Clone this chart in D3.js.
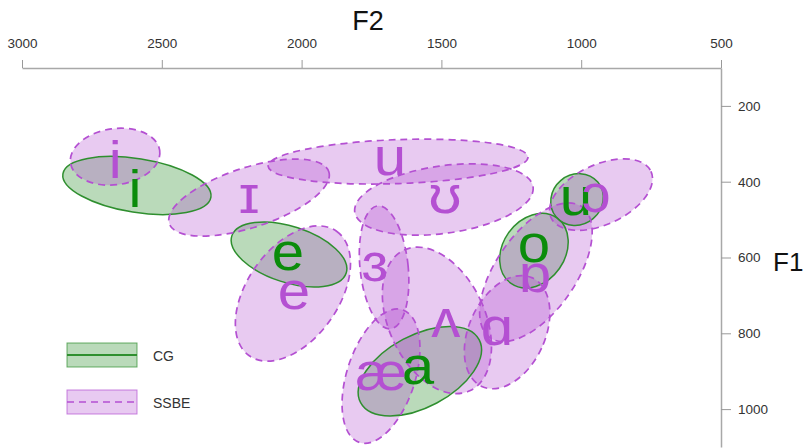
<!DOCTYPE html>
<html>
<head>
<meta charset="utf-8">
<script src="https://cdn.jsdelivr.net/npm/d3@7"></script>
<style>
  body { margin: 0; background: #fff; }
  svg { font-family: "Liberation Sans", Arial, "DejaVu Sans", sans-serif; }
</style>
</head>
<body>
<svg id="chart" width="807" height="448"></svg>
<script>
// axis ticks
var f2Ticks = [3000, 2500, 2000, 1500, 1000, 500]
var f1Ticks = [200, 400, 600, 800, 1000]

// CG vowels: ellipse centre (F2, F1), semi axes (Hz), tilt (deg), label anchor
var cgVowels = ['i', 'e', 'a', 'o', 'u']
var cgF2 = [2589, 2045, 1577, 1169, 1015]
var cgF1 = [410, 592, 900, 582, 447]
var cgRx = [268, 215, 240, 143, 97]
var cgRy = [71, 74, 95, 82, 66]
var cgTilt = [9, 18, -28, -55, -40]
var cgLabelF2 = [2596, 2049, 1584, 1169, 1019]
var cgLabelF1 = [466, 634, 934, 611, 487]

// SSBE vowels
var ssVowels = ['i', 'ɪ', 'u', 'ʊ', 'e', 'ɜ', 'ʌ', 'æ', 'ɑ', 'ɒ', 'ɔ']
var ssF2 = [2667, 2188, 1655, 1491, 2031, 1705, 1516, 1716, 1265, 1162, 929]
var ssF1 = [334, 442, 347, 447, 695, 626, 766, 913, 797, 639, 434]
var ssRx = [161, 300, 465, 322, 272, 86, 172, 122, 136, 286, 197]
var ssRy = [74, 79, 58, 89, 121, 163, 205, 184, 158, 105, 79]
var ssTilt = [-8, -18, -2, -8, -55, -6, -25, 18, 25, -55, -25]
var ssLabelF2 = [2667, 2188, 1684, 1487, 2027, 1738, 1484, 1716, 1301, 1165, 947]
var ssLabelF1 = [389, 482, 382, 482, 737, 663, 811, 950, 832, 692, 479]

var groups = ['CG', 'SSBE']

var green = '#2f8f2f'
var greenText = '#0b8c0b'
var violet = '#b450d2'

var svg = d3.select('#chart')

var x = d3.scaleLinear().domain([3000, 500]).range([22, 721])
var y = d3.scaleLinear().domain([100, 1100]).range([68, 447])
var kx = Math.abs(x(1) - x(0))
var ky = Math.abs(y(1) - y(0))

function rows (names, f2, f1, rx, ry, tilt, lf2, lf1) {
  return names.map(function (n, i) {
    return {name: n, f2: f2[i], f1: f1[i], rx: rx[i], ry: ry[i], tilt: tilt[i], lf2: lf2[i], lf1: lf1[i]}
  })
}

var cg = rows(cgVowels, cgF2, cgF1, cgRx, cgRy, cgTilt, cgLabelF2, cgLabelF1)
var ss = rows(ssVowels, ssF2, ssF1, ssRx, ssRy, ssTilt, ssLabelF2, ssLabelF1)

function ellipses (g, data) {
  return g.selectAll('ellipse')
    .data(data)
    .enter()
    .append('ellipse')
    .attr('cx', d => x(d.f2))
    .attr('cy', d => y(d.f1))
    .attr('rx', d => d.rx * kx)
    .attr('ry', d => d.ry * ky)
    .attr('transform', d => `rotate(${d.tilt},${x(d.f2)},${y(d.f1)})`)
}

// fills first, then outlines
ellipses(svg.append('g'), cg)
  .attr('fill', green).attr('fill-opacity', 0.33).attr('stroke', 'none')
ellipses(svg.append('g'), ss)
  .attr('fill', violet).attr('fill-opacity', 0.3).attr('stroke', 'none')
ellipses(svg.append('g'), cg)
  .attr('fill', 'none').attr('stroke', green).attr('stroke-width', 1.5)
ellipses(svg.append('g'), ss)
  .attr('fill', 'none').attr('stroke', violet).attr('stroke-width', 1.7)
  .attr('stroke-dasharray', '7,5')

// vowel labels
function labels (g, data, color) {
  g.selectAll('text')
    .data(data)
    .enter()
    .append('text')
    .attr('transform', d => `translate(${x(d.lf2)},${y(d.lf1)}) scale(1.12,1)`)
    .attr('text-anchor', 'middle')
    .attr('font-size', 52)
    .attr('fill', color)
    .text(d => d.name)
}
labels(svg.append('g'), cg, greenText)
labels(svg.append('g'), ss, violet)

/*
    --------------------------------------
    Axes
*/
var xAxis = d3.axisTop(x).tickValues(f2Ticks).tickFormat(d3.format('d'))
  .tickSize(8).tickSizeOuter(0).tickPadding(12)
svg.append('g').attr('transform', 'translate(0,68)').call(xAxis)

var yAxis = d3.axisRight(y).tickValues(f1Ticks).tickFormat(d3.format('d'))
  .tickSize(10).tickSizeOuter(0).tickPadding(7)
svg.append('g').attr('transform', 'translate(721,0)').call(yAxis)

svg.selectAll('.domain').attr('stroke', '#a8a8a8').attr('stroke-width', 1.5)
svg.selectAll('.tick line').attr('stroke', '#999')
svg.selectAll('.tick text')
  .attr('fill', '#333')
  .attr('font-size', 13.5)
  .attr('font-family', '"Liberation Sans", Arial, sans-serif')

svg.append('text')
  .attr('x', 368).attr('y', 30)
  .attr('text-anchor', 'middle')
  .attr('font-size', 27)
  .attr('fill', '#111')
  .text('F2')

svg.append('text')
  .attr('x', 773).attr('y', 271)
  .attr('font-size', 26)
  .attr('fill', '#111')
  .text('F1')

/*
    --------------------------------------
    Legend
*/
var legend = svg.append('g').attr('transform', 'translate(67,343)')
var item = legend.selectAll('g')
  .data(groups)
  .enter()
  .append('g')
  .attr('transform', (d, i) => `translate(0,${i * 47})`)

item.append('rect')
  .attr('width', 70).attr('height', 24)
  .attr('fill', (d, i) => i ? violet : green)
  .attr('fill-opacity', (d, i) => i ? 0.3 : 0.33)
  .attr('stroke', (d, i) => i ? violet : green)
  .attr('stroke-opacity', 0.7)
  .attr('stroke-width', 1)

item.append('line')
  .attr('x1', 0).attr('x2', 70)
  .attr('y1', 12).attr('y2', 12)
  .attr('stroke', (d, i) => i ? violet : green)
  .attr('stroke-width', (d, i) => i ? 1.7 : 2)
  .attr('stroke-dasharray', (d, i) => i ? '7,5' : null)

item.append('text')
  .attr('x', 86).attr('y', 18)
  .attr('font-size', 14)
  .attr('fill', '#333')
  .text(d => d)
</script>
</body>
</html>
